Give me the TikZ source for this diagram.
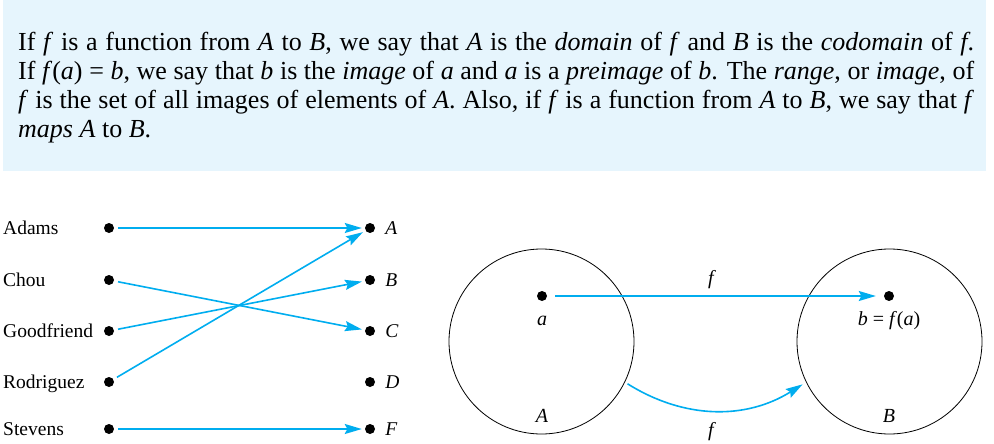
\documentclass[tikz,border=0pt]{standalone}
\usepackage{fontspec}
\setmainfont{Liberation Serif}
\usepackage{xcolor}
\usetikzlibrary{arrows.meta, positioning}
\definecolor{DefBoxBlue}{RGB}{230, 245, 253}
\definecolor{MapCyan}{RGB}{0, 173, 239}

\tikzset{
  elemdot/.style={circle, fill=black, inner sep=0pt, minimum size=10pt},
  setcircle/.style={circle, draw=black, line width=0.8pt, inner sep=0pt, minimum size=185pt},
  mapsto/.style={draw=MapCyan, line width=1.6pt, -{Stealth[length=17pt, width=10pt, inset=2.5pt]}},
  namelabel/.style={anchor=base west, inner sep=0pt, font=\fontsize{19.5}{22}\selectfont},
  letterlabel/.style={inner sep=0pt, font=\fontsize{19.5}{22}\selectfont\itshape},
  maplabel/.style={anchor=base, inner sep=0pt, font=\fontsize{20}{24}\selectfont}
}

\begin{document}
\begin{tikzpicture}[x=1pt, y=-1pt]
    \useasboundingbox (0,0) rectangle (994,444);
    \node[rectangle, fill=DefBoxBlue, anchor=north west, inner sep=0pt,
          minimum width=983pt, minimum height=171pt] (defbox) at (3,0) {};
    \node[anchor=north west, inner sep=0pt, text width=956pt, align=justify,
          font=\fontsize{26}{29}\selectfont] (deftext) at (18,31.6) {%
      If \textit{f} is a function from \textit{A} to \textit{B}, we say that \textit{A} is the \textit{domain} of \textit{f} and \textit{B} is the \textit{codomain} of \textit{f}.\linebreak
      If \textit{f}(\textit{a}) = \textit{b}, we say that \textit{b} is the \textit{image} of \textit{a} and \textit{a} is a \textit{preimage} of \textit{b}. The \textit{range}, or \textit{image}, of\linebreak
      \textit{f} is the set of all images of elements of \textit{A}. Also, if \textit{f} is a function from \textit{A} to \textit{B}, we say that \textit{f}\linebreak
      \textit{maps A} to \textit{B}.};

    \foreach \nm/\lt/\y [count=\i] in {Adams/A/228, Chou/B/280, Goodfriend/C/331, Rodriguez/D/382, Stevens/F/429} {
      \node[namelabel] (name\i) at (3,\y+6) {\nm};
      \node[elemdot] (src\i) at (109,\y) {};
      \node[elemdot] (tgt\i) at (370,\y) {};
      \node[letterlabel, right=10pt of tgt\i] (letter\i) {\lt};
    }
    \foreach \s/\t in {1/1, 2/3, 3/2, 4/1, 5/5}
      \draw[mapsto, shorten <=4pt, shorten >=3pt] (src\s) -- (tgt\t);

    \node[setcircle] (setA) at (541.5,341.5) {};
    \node[setcircle] (setB) at (889.5,341.5) {};
    \node[elemdot] (elemA) at (542,296) {};
    \node[elemdot] (elemB) at (889,296) {};
    \node[maplabel] (labA) at (542,325) {\textit{a}};
    \node[maplabel] (labB) at (889,325) {\textit{b} = \textit{f}(\textit{a})};
    \node[maplabel] (nameA) at (542,422) {\textit{A}};
    \node[maplabel] (nameB) at (889,422) {\textit{B}};
    \draw[mapsto, shorten <=8pt, shorten >=8pt] (elemA) -- (elemB);
    \node[maplabel] (fTop) at (712,284) {\textit{f}};
    \draw[mapsto, shorten <=3pt, shorten >=4pt] (setA.-26) to[bend right=32] (setB.206);
    \node[maplabel] (fBottom) at (712,436) {\textit{f}};
  \end{tikzpicture}
\end{document}
